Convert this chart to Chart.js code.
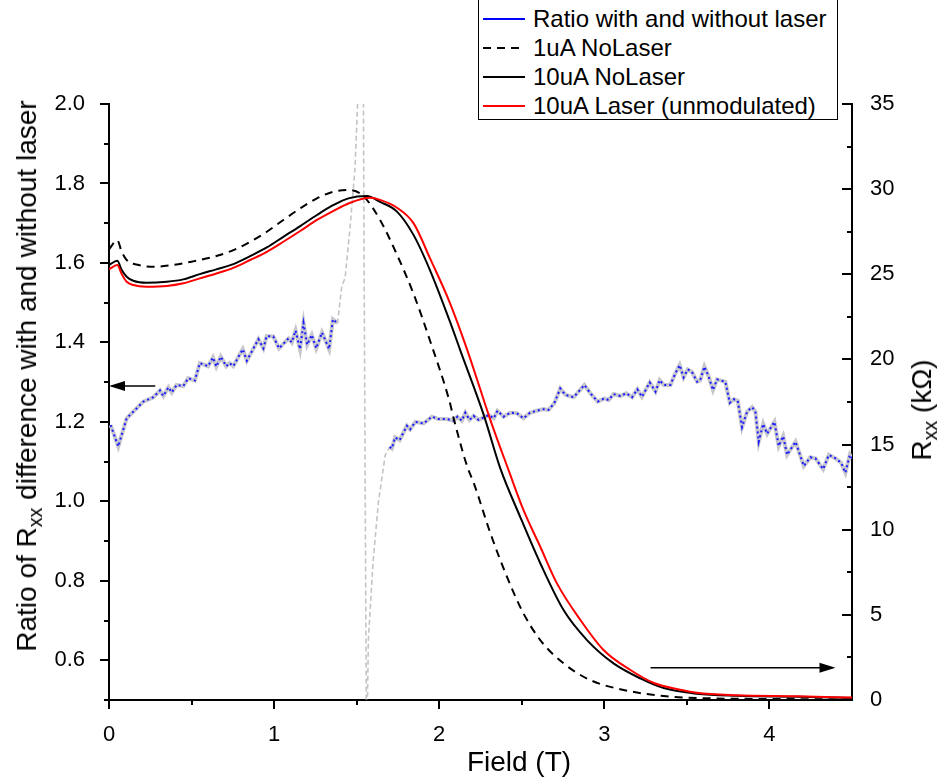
<!DOCTYPE html>
<html>
<head>
<meta charset="utf-8">
<script src="https://cdn.jsdelivr.net/npm/chart.js@4.4.1/dist/chart.umd.min.js"></script>
<style>
  html, body { margin: 0; padding: 0; background: #fff; }
  #wrap { position: relative; width: 944px; height: 784px; overflow: hidden;
          font-family: 'Liberation Sans', Arial, sans-serif; color: #000; background: #fff; }
  canvas { position: absolute; left: 0; top: 0; }
  .title { position: absolute; white-space: nowrap; font-size: 28px; line-height: 1;
           transform: translate(-50%, -50%); }
  .rot { transform: translate(-50%, -50%) rotate(-90deg); }
  sub { font-size: 0.7em; vertical-align: -0.3em; line-height: 0; }
  #legend { position: absolute; left: 478px; top: -1px; width: 360px; height: 121px;
            box-sizing: border-box; border: 1px solid #000; background: #fff;
            font-size: 24px; padding-top: 4px; }
  .row { display: flex; align-items: center; height: 29px; white-space: nowrap; }
  .sw { width: 42px; height: 2px; margin-left: 4px; margin-right: 8px; flex: none; }
</style>
</head>
<body>
<div id="wrap">
  <canvas id="chart" width="944" height="784"></canvas>
  <div id="legend">
    <div class="row"><span class="sw" style="background:#0000ff"></span>Ratio with and without laser</div>
    <div class="row"><span class="sw" style="background:repeating-linear-gradient(90deg,#000 0 8px,transparent 8px 14px)"></span>1uA NoLaser</div>
    <div class="row"><span class="sw" style="background:#000"></span>10uA NoLaser</div>
    <div class="row"><span class="sw" style="background:#ff0000"></span>10uA Laser (unmodulated)</div>
  </div>
  <div class="title rot" style="left:27px;top:376px">Ratio of R<sub>xx</sub> difference with and without laser</div>
  <div class="title rot" style="left:922px;top:410px">R<sub>xx</sub> (kΩ)</div>
  <div class="title" style="left:519px;top:762px">Field (T)</div>
</div>
<script>
// ---- Ratio of Rxx (left axis) vs field ----
const ratioField = [
  0.01, 0.056, 0.107, 0.158, 0.208, 0.269, 0.309, 0.329, 0.36, 0.38, 0.41, 0.45, 0.48, 0.52,
  0.55, 0.60, 0.63, 0.65, 0.677, 0.71, 0.73, 0.753, 0.81, 0.835, 0.905, 0.935, 0.955, 0.995,
  1.03, 1.087, 1.107, 1.13, 1.157, 1.178, 1.20, 1.228, 1.255, 1.29, 1.333, 1.356, 1.384,
  1.41, 1.43, 1.46, 1.49, 1.505, 1.52, 1.535, 1.545, 1.552, 1.56, 1.571, 1.60, 1.632, 1.673,
  1.70, 1.713, 1.733, 1.76, 1.804, 1.824, 1.855, 1.905, 1.956, 1.996, 2.047, 2.087, 2.11,
  2.137, 2.158, 2.184, 2.208, 2.238, 2.30, 2.33, 2.353, 2.39, 2.43, 2.47, 2.51, 2.55, 2.59,
  2.632, 2.662, 2.697, 2.733, 2.764, 2.814, 2.844, 2.879, 2.915, 2.96, 3.00, 3.026, 3.056,
  3.097, 3.133, 3.168, 3.20, 3.228, 3.275, 3.31, 3.335, 3.36, 3.40, 3.43, 3.456, 3.48, 3.505,
  3.53, 3.562, 3.58, 3.606, 3.632, 3.658, 3.683, 3.733, 3.76, 3.784, 3.808, 3.834, 3.865,
  3.895, 3.915, 3.935, 3.962, 3.986, 4.03, 4.056, 4.083, 4.107, 4.158, 4.208, 4.248, 4.279,
  4.325, 4.36, 4.40, 4.434, 4.46, 4.487, 4.50
];
const ratioValue = [
  1.192, 1.138, 1.209, 1.230, 1.251, 1.262, 1.279, 1.265, 1.287, 1.274, 1.293, 1.290, 1.310, 1.304,
  1.348, 1.340, 1.362, 1.339, 1.364, 1.340, 1.348, 1.340, 1.383, 1.354, 1.408, 1.385, 1.416, 1.415,
  1.385, 1.410, 1.400, 1.430, 1.383, 1.449, 1.394, 1.419, 1.385, 1.425, 1.383, 1.458, 1.448,
  1.542, 1.562, 1.690, 1.839, 1.996, 2.300, 2.600, 1.600, 1.000, 0.350, 0.653, 0.851, 0.999, 1.117,
  1.137, 1.133, 1.161, 1.154, 1.190, 1.181, 1.200, 1.196, 1.213, 1.207, 1.207, 1.203, 1.213,
  1.203, 1.223, 1.205, 1.215, 1.205, 1.217, 1.209, 1.228, 1.213, 1.223, 1.222, 1.209, 1.223, 1.228,
  1.232, 1.230, 1.247, 1.284, 1.268, 1.262, 1.276, 1.293, 1.272, 1.251, 1.259, 1.255, 1.270,
  1.265, 1.272, 1.262, 1.282, 1.263, 1.299, 1.276, 1.305, 1.293, 1.293, 1.322, 1.343, 1.312, 1.332,
  1.326, 1.301, 1.304, 1.339, 1.314, 1.280, 1.307, 1.301, 1.248, 1.257, 1.253, 1.187, 1.226,
  1.237, 1.226, 1.150, 1.195, 1.170, 1.200, 1.139, 1.164, 1.117, 1.150, 1.089, 1.111, 1.108,
  1.081, 1.117, 1.108, 1.097, 1.072, 1.117, 1.108
];
// field range where the ratio diverges (Rxx crossing), drawn only as a faint dashed trace
const ratioGap = [1.384, 1.70];

// ---- Rxx curves (right axis, kΩ) ----
const noLaser1uAField = [0.00, 0.05, 0.077, 0.107, 0.18, 0.28, 0.38, 0.50, 0.65, 0.753, 0.855, 0.956,
  1.056, 1.158, 1.259, 1.36, 1.46, 1.54, 1.64, 1.744, 1.845, 1.945, 2.06, 2.09, 2.17, 2.21, 2.31,
  2.41, 2.51, 2.612, 2.753, 2.915, 3.117, 3.36, 3.56, 4.17, 4.50];
const noLaser1uA = [26.46, 27.0, 26.32, 25.84, 25.54, 25.44, 25.54, 25.74, 26.07, 26.42, 26.91, 27.5,
  28.19, 28.87, 29.46, 29.85, 29.95, 29.6, 28.22, 26.15, 23.84, 21.08, 17.62, 16.44, 13.7, 12.72, 9.79,
  7.24, 5.09, 3.52, 2.15, 1.17, 0.59, 0.23, 0.12, 0.05, 0.03];

const noLaser10uAField = [0.00, 0.05, 0.077, 0.107, 0.147, 0.228, 0.35, 0.45, 0.55, 0.65, 0.753, 0.855,
  0.956, 1.056, 1.158, 1.259, 1.36, 1.45, 1.562, 1.642, 1.744, 1.845, 1.945, 2.06, 2.127, 2.27, 2.37,
  2.49, 2.612, 2.753, 2.895, 3.056, 3.218, 3.36, 3.56, 3.80, 4.17, 4.50];
const noLaser10uA = [25.54, 25.8, 25.25, 24.86, 24.62, 24.5, 24.56, 24.7, 25.01, 25.29, 25.6, 26.07,
  26.58, 27.2, 27.83, 28.48, 29.07, 29.46, 29.6, 29.25, 28.68, 27.3, 25.22, 22.35, 20.55, 16.73, 13.6,
  10.76, 8.03, 5.28, 3.52, 2.15, 1.27, 0.7, 0.37, 0.25, 0.19, 0.12];

const laser10uAField = [0.00, 0.05, 0.077, 0.107, 0.147, 0.228, 0.35, 0.45, 0.55, 0.65, 0.753, 0.855,
  0.956, 1.056, 1.158, 1.259, 1.36, 1.45, 1.582, 1.642, 1.744, 1.845, 1.945, 2.062, 2.17, 2.31, 2.42,
  2.51, 2.612, 2.713, 2.855, 2.995, 3.158, 3.30, 3.46, 3.56, 3.80, 4.17, 4.50];
const laser10uA = [25.29, 25.54, 25.01, 24.56, 24.37, 24.27, 24.31, 24.47, 24.76, 25.05, 25.38, 25.84,
  26.32, 26.91, 27.54, 28.19, 28.73, 29.16, 29.49, 29.37, 28.91, 27.99, 25.92, 23.38, 20.55, 16.44, 13.5,
  11.16, 9.0, 6.85, 4.7, 2.94, 1.76, 1.0, 0.6, 0.42, 0.28, 0.22, 0.14];

// ---- axis ticks ----
const fieldTicks = [0, 1, 2, 3, 4];
const fieldMinor = [0.5, 1.5, 2.5, 3.5];
const ratioTicks = [0.6, 0.8, 1.0, 1.2, 1.4, 1.6, 1.8, 2.0];
const ratioMinor = [0.5, 0.7, 0.9, 1.1, 1.3, 1.5, 1.7, 1.9];
const rxxTicks = [0, 5, 10, 15, 20, 25, 30, 35];
const rxxMinor = [2.5, 7.5, 12.5, 17.5, 22.5, 27.5, 32.5];

// axis pointers: [field, value] start and tip
const ratioPointer = { from: [0.28, 1.29], to: [0.0, 1.29] };
const rxxPointer = { from: [3.28, 1.9], to: [4.40, 1.9] };

const pts = (xs, ys) => xs.map((x, i) => ({ x, y: ys[i] }));
const inGap = f => f > ratioGap[0] && f < ratioGap[1];
const ratioMain = ratioField.map((x, i) => ({ x, y: inGap(x) ? null : ratioValue[i] }));
const ratioSpike = ratioField.map((x, i) => ({ x, y: (x >= ratioGap[0] && x <= ratioGap[1]) ? ratioValue[i] : null }));

const FONT = "'Liberation Sans', Arial, sans-serif";

// minor/major tick marks and the axis pointer arrows
const axisDecor = {
  id: 'axisDecor',
  afterDraw(chart) {
    const { ctx, chartArea: a } = chart;
    const { x, y, y2 } = chart.scales;
    ctx.save();
    ctx.strokeStyle = '#000';
    ctx.lineWidth = 2;
    ctx.beginPath();
    const hx = (v, len) => { const p = Math.round(x.getPixelForValue(v)); ctx.moveTo(p, a.bottom); ctx.lineTo(p, a.bottom + len); };
    const hy = (v, len) => { const p = Math.round(y.getPixelForValue(v)); ctx.moveTo(a.left, p); ctx.lineTo(a.left - len, p); };
    const hr = (v, len) => { const p = Math.round(y2.getPixelForValue(v)); ctx.moveTo(a.right, p); ctx.lineTo(a.right - len, p); };
    fieldTicks.forEach(v => hx(v, 9));
    fieldMinor.forEach(v => hx(v, 5));
    ratioTicks.forEach(v => hy(v, 9));
    ratioMinor.forEach(v => hy(v, 5));
    rxxTicks.forEach(v => hr(v, 10));
    rxxMinor.forEach(v => hr(v, 5));
    ctx.stroke();

    const arrow = (p, ys) => {
      const x0 = x.getPixelForValue(p.from[0]), y0 = ys.getPixelForValue(p.from[1]);
      const x1 = x.getPixelForValue(p.to[0]), y1 = ys.getPixelForValue(p.to[1]);
      const dir = Math.sign(x1 - x0);
      ctx.lineWidth = 1.5;
      ctx.beginPath();
      ctx.moveTo(x0, y0); ctx.lineTo(x1 - dir * 12, y1);
      ctx.stroke();
      ctx.beginPath();
      ctx.moveTo(x1, y1);
      ctx.lineTo(x1 - dir * 16, y1 - 5);
      ctx.lineTo(x1 - dir * 16, y1 + 5);
      ctx.closePath();
      ctx.fillStyle = '#000';
      ctx.fill();
    };
    arrow(ratioPointer, y);
    arrow(rxxPointer, y2);
    ctx.restore();
  }
};

const tickFont = { family: FONT, size: 22 };

new Chart(document.getElementById('chart'), {
  type: 'line',
  data: {
    datasets: [
      { label: '10uA Laser (unmodulated)', data: pts(laser10uAField, laser10uA), yAxisID: 'y2',
        borderColor: '#ff0000', borderWidth: 2, cubicInterpolationMode: 'monotone' },
      { label: '10uA NoLaser', data: pts(noLaser10uAField, noLaser10uA), yAxisID: 'y2',
        borderColor: '#000000', borderWidth: 2, cubicInterpolationMode: 'monotone' },
      { label: '1uA NoLaser', data: pts(noLaser1uAField, noLaser1uA), yAxisID: 'y2',
        borderColor: '#000000', borderWidth: 2, borderDash: [8, 6], cubicInterpolationMode: 'monotone' },
      { label: 'Ratio with and without laser', data: ratioMain, yAxisID: 'y',
        borderColor: '#1a1aff', borderWidth: 2, borderDash: [2, 3], spanGaps: false, tension: 0 },
      { label: 'ratio band', data: ratioMain, yAxisID: 'y',
        borderColor: '#c6c6cc', borderWidth: 4, spanGaps: false, tension: 0 },
      { label: 'ratio divergence', data: ratioSpike, yAxisID: 'y',
        borderColor: '#c4c4c4', borderWidth: 1.6, borderDash: [5, 3], spanGaps: false, tension: 0 }
    ]
  },
  options: {
    responsive: false,
    animation: false,
    devicePixelRatio: 1,
    layout: { padding: { top: 104, left: 0, right: 0, bottom: 0 } },
    elements: { point: { radius: 0, hoverRadius: 0 } },
    plugins: { legend: { display: false }, tooltip: { enabled: false } },
    scales: {
      x: {
        type: 'linear', min: 0, max: 4.5,
        afterBuildTicks: s => { s.ticks = fieldTicks.map(v => ({ value: v })); },
        afterFit: s => { s.height = 84; },
        grid: { display: false },
        border: { display: true, color: '#000', width: 2 },
        ticks: { font: tickFont, color: '#000', padding: 14, maxRotation: 0, autoSkip: false,
                 callback: v => String(v) }
      },
      y: {
        position: 'left', min: 0.5, max: 2.0,
        afterBuildTicks: s => { s.ticks = ratioTicks.map(v => ({ value: v })); },
        afterFit: s => { s.width = 109; },
        grid: { display: false },
        border: { display: true, color: '#000', width: 2 },
        ticks: { font: tickFont, color: '#000', padding: 16, autoSkip: false,
                 callback: v => Number(v).toFixed(1) }
      },
      y2: {
        position: 'right', min: 0, max: 35,
        afterBuildTicks: s => { s.ticks = rxxTicks.map(v => ({ value: v })); },
        afterFit: s => { s.width = 92; },
        grid: { display: false },
        border: { display: true, color: '#000', width: 2 },
        ticks: { font: tickFont, color: '#000', padding: 10, autoSkip: false,
                 callback: v => String(v) }
      }
    }
  },
  plugins: [axisDecor]
});
</script>
</body>
</html>
